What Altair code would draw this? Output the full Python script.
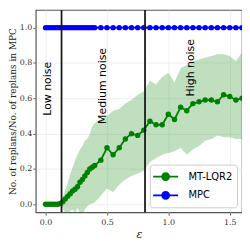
import altair as alt
import pandas as pd

eps = [0.00, 0.02, 0.04, 0.06, 0.08, 0.10, 0.12, 0.14, 0.16, 0.18, 0.20, 0.22, 0.24, 0.26, 0.28,
       0.30, 0.32, 0.34, 0.36, 0.38, 0.40, 0.45, 0.50, 0.55, 0.60, 0.65, 0.70, 0.75, 0.80, 0.85,
       0.90, 0.95, 1.00, 1.05, 1.10, 1.15, 1.20, 1.25, 1.30, 1.35, 1.40, 1.45, 1.50, 1.55, 1.60]
mt_mean = [0, 0, 0, 0, 0, 0, 0.005, 0.015, 0.03, 0.045, 0.06, 0.075, 0.085, 0.10, 0.125,
           0.14, 0.16, 0.18, 0.20, 0.21, 0.22, 0.25, 0.32, 0.28, 0.32, 0.37, 0.40, 0.39, 0.42, 0.47,
           0.45, 0.45, 0.51, 0.48, 0.55, 0.53, 0.57, 0.58, 0.59, 0.59, 0.58, 0.62, 0.61, 0.59, 0.60]
mt_high = [0, 0, 0, 0, 0, 0, 0.01, 0.04, 0.08, 0.12, 0.17, 0.21, 0.25, 0.28, 0.31,
           0.33, 0.36, 0.37, 0.40, 0.44, 0.46, 0.48, 0.50, 0.53, 0.54, 0.57, 0.59, 0.62, 0.64, 0.70,
           0.68, 0.72, 0.745, 0.69, 0.77, 0.79, 0.81, 0.82, 0.83, 0.84, 0.85, 0.85, 0.84, 0.81, 0.86]
mt_low = [0, 0, 0, 0, 0, 0, 0, -0.02, -0.05, -0.06, -0.04, -0.03, -0.05, -0.02, -0.05,
          -0.06, -0.03, -0.01, 0.0, 0.005, 0.01, 0.05, 0.09, 0.07, 0.11, 0.14, 0.16, 0.175, 0.19, 0.24,
          0.26, 0.28, 0.29, 0.30, 0.32, 0.28, 0.31, 0.33, 0.36, 0.37, 0.39, 0.38, 0.38, 0.37, 0.37]
mpc = [1.0, 1.0, 1.0, 1.0, 1.0, 1.0, 1.0, 1.0, 1.0, 1.0, 1.0, 1.0, 1.0, 1.0, 1.0,
       1.0, 1.0, 1.0, 1.0, 1.0, 1.0, 1.0, 1.0, 1.0, 1.0, 1.0, 1.0, 1.0, 1.0, 1.0,
       1.0, 1.0, 1.0, 1.0, 1.0, 1.0, 1.0, 1.0, 1.0, 1.0, 1.0, 1.0, 1.0, 1.0, 1.0]
series_names = ["MT-LQR2", "MPC"]
series_colors = ["green", "blue"]
noise_bounds = [0.13, 0.81]
label_text = ["Low noise", "Medium noise", "High noise"]
label_x = [0.02, 0.47, 1.187]
label_y = [0.654, 0.67, 0.773]
x_ticks = [0.0, 0.5, 1.0, 1.5]
y_ticks = [0.0, 0.2, 0.4, 0.6, 0.8, 1.0]

n = len(eps)
long_df = pd.DataFrame({
    "eps": eps + eps,
    "value": mt_mean + mpc,
    "series": [series_names[0]] * n + [series_names[1]] * n,
})
band_df = pd.DataFrame({"eps": eps, "lo": mt_low, "hi": mt_high})
rule_df = pd.DataFrame({"eps": noise_bounds})
text_df = pd.DataFrame({"eps": label_x, "value": label_y, "label": label_text})

xs = alt.Scale(domain=[-0.08, 1.6], nice=False, zero=False)
ys = alt.Scale(domain=[-0.045, 1.1], nice=False, zero=False)
cs = alt.Scale(domain=series_names, range=series_colors)

x_axis = alt.Axis(values=x_ticks, format=".1f", title="ε", titleFontStyle="italic",
                  titleFontWeight="normal", titleFontSize=11, titlePadding=2, labelPadding=3)
y_axis = alt.Axis(values=y_ticks, format=".1f", title="No. of replans/No. of replans in MPC",
                  titleFontWeight="normal", titleFontSize=9, titlePadding=2, labelPadding=1)

sym = "M-1.8,0L1.8,0M0.5,0A0.5,0.5,0,1,1,-0.5,0A0.5,0.5,0,1,1,0.5,0Z"

band = alt.Chart(band_df).mark_area(color="green", opacity=0.25, clip=True).encode(
    x=alt.X("eps:Q", scale=xs, axis=x_axis),
    y=alt.Y("lo:Q", scale=ys, axis=y_axis),
    y2="hi:Q",
)

legend = alt.Legend(title=None, orient="bottom-right", offset=5, symbolType=sym, symbolSize=196,
                    symbolStrokeWidth=1.8, symbolOffset=4, labelOffset=15, rowPadding=3,
                    padding=4, labelFont="DejaVu Sans", labelFontSize=10, labelColor="black",
                    strokeColor="#cccccc", fillColor="white", cornerRadius=3)

lines = alt.Chart(long_df).mark_line(strokeWidth=1.8, clip=True).encode(
    x=alt.X("eps:Q", scale=xs),
    y=alt.Y("value:Q", scale=ys),
    color=alt.Color("series:N", scale=cs, legend=legend, sort=series_names),
)
points = alt.Chart(long_df).mark_point(filled=True, size=30, opacity=1, clip=True).encode(
    x=alt.X("eps:Q", scale=xs),
    y=alt.Y("value:Q", scale=ys),
    color=alt.Color("series:N", scale=cs, legend=legend, sort=series_names),
)
rules = alt.Chart(rule_df).mark_rule(color="#1a1a1a", strokeWidth=1.8).encode(
    x=alt.X("eps:Q", scale=xs),
)
texts = alt.Chart(text_df).mark_text(angle=270, font="DejaVu Sans", fontSize=11, align="center",
                                     baseline="middle", color="black").encode(
    x=alt.X("eps:Q", scale=xs),
    y=alt.Y("value:Q", scale=ys),
    text="label:N",
)

chart = alt.layer(band, lines, points, rules, texts).properties(
    width=208, height=204,
    padding={"left": 0, "top": 0, "right": 0, "bottom": 0},
).configure_view(
    stroke="#555555", strokeWidth=1.2,
).configure_axis(
    grid=True, gridColor="#ebebeb", gridWidth=0.8, domain=False,
    tickColor="#444444", tickSize=3, tickWidth=0.8,
    labelFont="DejaVu Serif", labelFontSize=8, labelColor="#333333",
    titleFont="DejaVu Serif", titleColor="#222222",
)

chart.save("out.html", embed_options={"renderer": "svg", "actions": False})
